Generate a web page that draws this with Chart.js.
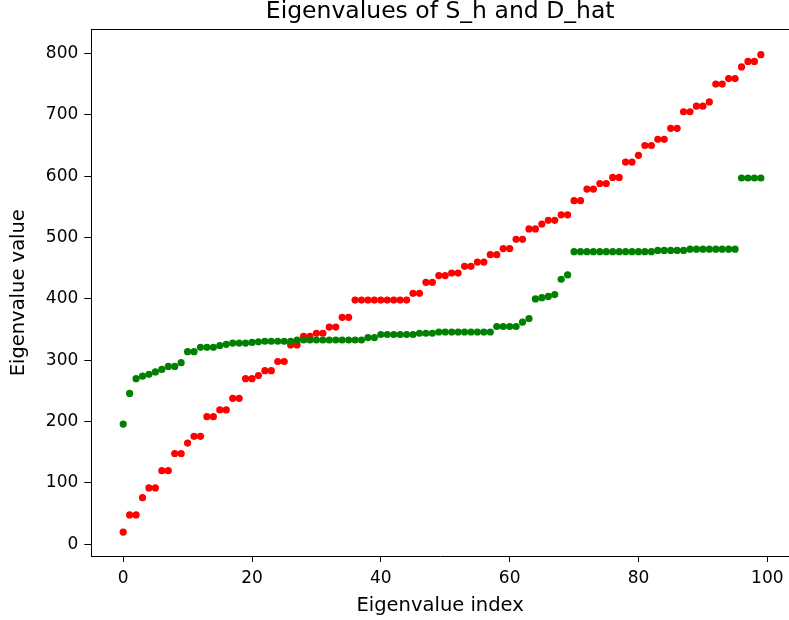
<!DOCTYPE html>
<html>
<head>
<meta charset="utf-8">
<script src="https://cdn.jsdelivr.net/npm/chart.js@4.4.1/dist/chart.umd.min.js"></script>
<style>
  html, body { margin: 0; padding: 0; background: #fff; overflow: hidden; }
  #wrap { width: 789px; height: 620px; }
</style>
</head>
<body>
<div id="wrap"><canvas id="eigChart" width="789" height="620"></canvas></div>
<script>
// Eigenvalues, index 0..99
const indices = Array.from({ length: 100 }, (_, i) => i);

const sHValues = [
  20, 48, 48, 76, 92, 92, 120, 120, 148, 148,
  165, 176, 176, 208, 208, 219, 219, 238, 238, 270,
  270, 275, 283, 283, 298, 298, 325, 325, 339, 339,
  344, 344, 354, 354, 370, 370, 398, 398, 398, 398,
  398, 398, 398, 398, 398, 409, 409, 427, 427, 438,
  438, 442, 442, 453, 453, 460, 460, 472, 472, 482,
  482, 497, 497, 514, 514, 522, 528, 528, 537, 537,
  560, 560, 579, 579, 588, 588, 598, 598, 623, 623,
  634, 650, 650, 660, 660, 678, 678, 705, 705, 714,
  714, 721, 750, 750, 759, 759, 778, 787, 787, 798
];

const dHatValues = [
  196, 246, 270, 274, 277, 281, 285, 290, 290, 296,
  314, 314, 321, 321, 321, 324, 326, 328, 328, 328,
  329, 330, 331, 331, 331, 331, 331, 333, 333, 333,
  333, 333, 333, 333, 333, 333, 333, 333, 337, 337,
  342, 342, 342, 342, 342, 342, 344, 344, 344, 346,
  346, 346, 346, 346, 346, 346, 346, 346, 355, 355,
  355, 355, 362, 368, 400, 402, 404, 407, 432, 439,
  477, 477, 477, 477, 477, 477, 477, 477, 477, 477,
  477, 477, 477, 479, 479, 479, 479, 479, 481, 481,
  481, 481, 481, 481, 481, 481, 597, 597, 597, 597
];

const xTicks = [0, 20, 40, 60, 80, 100];
const yTicks = [0, 100, 200, 300, 400, 500, 600, 700, 800];

const FONT = "'DejaVu Sans', sans-serif";

// top spine (the right spine falls outside the cropped picture)
const framePlugin = {
  id: 'frame',
  afterDraw(chart) {
    const { ctx, chartArea: a } = chart;
    ctx.save();
    ctx.strokeStyle = '#000';
    ctx.lineWidth = 1;
    ctx.beginPath();
    ctx.moveTo(a.left, a.top);
    ctx.lineTo(a.right, a.top);
    ctx.stroke();
    ctx.restore();
  }
};

new Chart(document.getElementById('eigChart'), {
  type: 'scatter',
  data: {
    datasets: [
      {
        label: 'S_h',
        data: indices.map((i) => ({ x: i, y: sHValues[i] })),
        backgroundColor: '#ff0000',
        borderWidth: 0,
        pointRadius: 3.6,
        order: 1
      },
      {
        label: 'D_hat',
        data: indices.map((i) => ({ x: i, y: dHatValues[i] })),
        backgroundColor: '#008000',
        borderWidth: 0,
        pointRadius: 3.6,
        order: 0
      }
    ]
  },
  options: {
    responsive: false,
    animation: false,
    layout: { padding: 0, autoPadding: false },
    plugins: {
      legend: { display: false },
      tooltip: { enabled: false },
      title: {
        display: true,
        text: 'Eigenvalues of S_h and D_hat',
        fullSize: false,
        color: '#000',
        font: { family: FONT, size: 23.5, weight: 'normal', lineHeight: 1.0 },
        padding: { top: 0, bottom: 6 }
      }
    },
    scales: {
      x: {
        type: 'linear',
        min: -4.95,
        max: 103.37,
        afterBuildTicks: (s) => { s.ticks = xTicks.map((v) => ({ value: v })); },
        afterFit: (s) => { s.height = 64; s.paddingLeft = 0; s.paddingRight = 0; },
        grid: { drawOnChartArea: false, drawTicks: true, tickLength: 6, color: '#000' },
        border: { display: true, color: '#000', width: 1 },
        ticks: { color: '#000', padding: 6, maxRotation: 0, font: { family: FONT, size: 17 } },
        title: {
          display: true,
          text: 'Eigenvalue index',
          color: '#000',
          font: { family: FONT, size: 19.5 },
          padding: { top: 0, bottom: 2.5 }
        }
      },
      y: {
        type: 'linear',
        min: -19,
        max: 839,
        afterBuildTicks: (s) => { s.ticks = yTicks.map((v) => ({ value: v })); },
        afterFit: (s) => { s.width = 91.3; s.paddingTop = 0; s.paddingBottom = 0; },
        grid: { drawOnChartArea: false, drawTicks: true, tickLength: 7, color: '#000' },
        border: { display: true, color: '#000', width: 1 },
        ticks: { color: '#000', padding: 6, font: { family: FONT, size: 17 } },
        title: {
          display: true,
          text: 'Eigenvalue value',
          color: '#000',
          font: { family: FONT, size: 19.5 },
          padding: { top: 7, bottom: 0 }
        }
      }
    }
  },
  plugins: [framePlugin]
});
</script>
</body>
</html>
